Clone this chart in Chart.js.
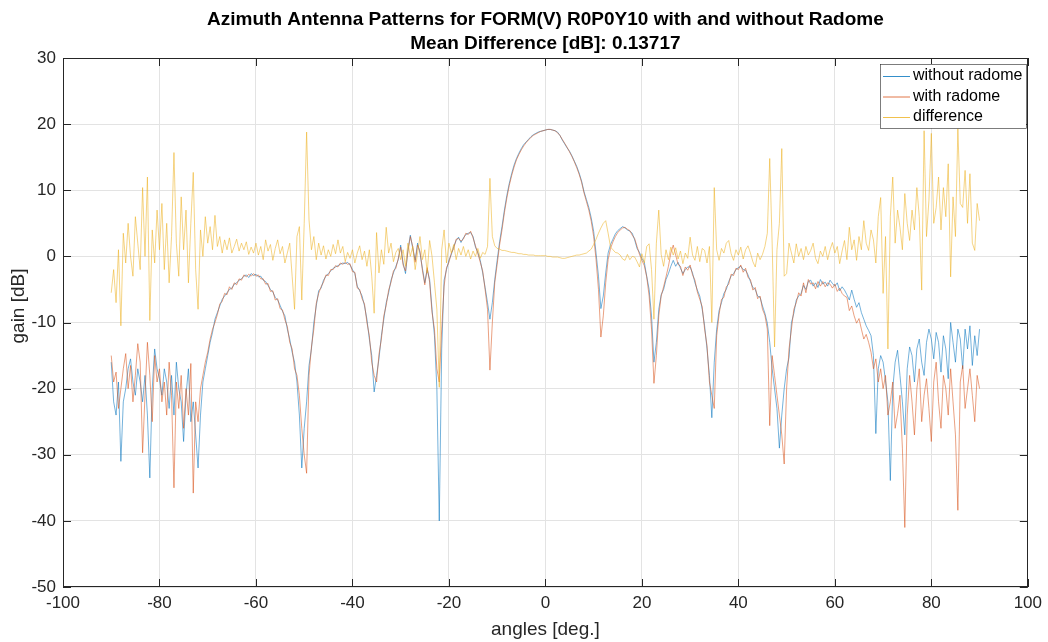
<!DOCTYPE html>
<html>
<head>
<meta charset="utf-8">
<script src="https://cdn.jsdelivr.net/npm/chart.js@4/dist/chart.umd.min.js"></script>
<style>
  html, body { margin: 0; padding: 0; background: #ffffff; }
  #wrap { width: 1048px; height: 642px; }
</style>
</head>
<body>
<div id="wrap"><canvas id="c" width="1048" height="642"></canvas></div>
<script>
// Azimuth angles, -90..90 deg in 0.5 deg steps
const angles = Array.from({ length: 361 }, (_, i) => -90 + i * 0.5);

// Gain without radome [dB]
const withoutRadome = [
  -16, -22, -24, -19, -31, -22, -20, -17, -15.5, -19, -21, -17, -19, -22, -18, -24, -33.5, -20, -14, -17,
  -18.5, -21, -17, -19, -23, -18, -24, -16, -20, -22, -28, -21, -17, -25, -22, -27, -32, -24, -19, -17,
  -15, -13, -11.5, -9.5, -8.5, -7.5, -6.5, -6, -5.5, -5, -4.8, -4.2, -4, -3.6, -3.4, -3, -2.8, -3.2, -2.6, -2.9,
  -2.7, -3.1, -3, -3.6, -3.8, -4.4, -5, -5.4, -6.2, -6.6, -7.4, -8.3, -9, -11, -12.5, -14.5, -16, -19, -24, -32,
  -26, -22, -16.5, -14, -10, -7.5, -5.2, -4.8, -3.6, -3, -2.6, -2.2, -1.8, -1.6, -1.4, -1.2, -1.0, -1.1, -0.9, -1.3,
  -2, -2.6, -4.5, -5.2, -6, -7.5, -9.5, -12.5, -15, -20.5, -18, -15.5, -12, -9.5, -7, -5.5, -3.6, -2.5, -1.5, -0.5,
  1.7, -1, -2.6, 1, 3.2, 1.2, -0.6, 2, 0.5, -1.8, -4, -2, -3.5, -8, -12, -20, -40, -14, -3.6, -2,
  -0.6, 0.3, 1.5, 2.4, 2.9, 2.1, 2.8, 3.3, 3.5, 3.6, 3, 1.4, 0.6, -0.6, -2.5, -4.7, -7, -9.5, -7, -3.5,
  -0.6, 2.2, 4.5, 7, 9.2, 11, 12.5, 13.8, 14.8, 15.6, 16.3, 16.9, 17.3, 17.7, 18.1, 18.4, 18.6, 18.8, 18.9, 19.0,
  19.1, 19.2, 19.2, 19.1, 19.0, 18.8, 18.3, 17.6, 17.0, 16.4, 15.9, 15.2, 14.4, 13.6, 12.6, 11.4, 9.8, 8.6, 7.4, 5.8,
  3.8, 0.5, -3, -7.9, -6, -2.5, 0.5, 1.8, 2.6, 3.4, 3.9, 4.2, 4.5, 4.3, 4.0, 3.8, 3.5, 2.5, 1.2, 0.6,
  -0.3, -0.9, -3, -5, -9, -16, -13, -8, -5.8, -5, -3.5, -2.6, -1.5, -0.6, -1.5, -0.9, -1.8, -2.6, -2, -1.6,
  -1.6, -2.5, -4, -5.1, -6, -8, -10.5, -14, -18, -24.4, -16, -11, -8.2, -7, -5.6, -5, -3.8, -3, -2.6, -2,
  -1.7, -1.5, -2, -2.1, -2.8, -3.8, -4.7, -5, -6, -6.2, -7.5, -8.6, -10.1, -13, -17, -20, -23, -29, -24, -20,
  -17, -15.3, -10, -8.6, -6.6, -6, -5.6, -4.4, -5, -3.8, -3.6, -4.5, -4, -4.7, -3.5, -4.2, -3.9, -4.5, -3.6, -4.1,
  -4.5, -4, -5.2, -4.6, -5.1, -5.8, -6.6, -5.1, -6.5, -7.7, -7, -8.5, -9.5, -10.5, -11.2, -12, -15, -26.8, -17, -15,
  -16, -18.8, -22, -33.9, -20, -16, -14.2, -18, -22, -27, -17, -13.7, -15, -19, -14, -12.5, -16, -18, -13, -11,
  -12.5, -15.5, -11.5, -13, -17.5, -12, -14, -18.5, -10, -13, -16, -11, -12.5, -17, -11, -14, -10.5, -16.5, -12, -15, -11
];

// Gain with radome [dB]
const withRadome = [
  -15, -19, -17.5, -23, -20, -17, -14.7, -20, -16.5, -22, -18, -13.2, -16, -29.7, -21, -13, -18, -25, -15, -19,
  -17, -22, -19, -24, -16, -21, -35, -19, -23, -18, -26, -20, -24, -16.2, -35.8, -22, -25, -20, -18, -16,
  -14.5, -12.5, -11, -10, -8.8, -7.2, -6.8, -5.6, -5.8, -4.6, -5, -4, -4.3, -3.4, -3.6, -2.8, -3.1, -2.7, -3, -2.6,
  -3, -2.8, -3.4, -3.4, -4.2, -4.1, -5.3, -5.2, -6.6, -6.4, -7.9, -8.1, -9.6, -10.6, -13, -14, -17, -18, -21, -26,
  -30, -32.8, -18, -13.7, -11, -7.1, -5.6, -4.6, -3.9, -2.8, -2.9, -2, -2, -1.4, -1.6, -1, -1.2, -0.9, -1.2, -1.1,
  -2.3, -2.4, -4.8, -5, -6.4, -7.2, -10, -12, -16, -18, -19, -14.8, -12.5, -9, -7.4, -5.1, -3.9, -2.2, -1.8, -0.3,
  1.4, -1.3, -2.2, 0.7, 3, 1.5, -0.9, 1.7, 0.8, -2.1, -4.3, -1.7, -3.9, -8.5, -11, -17, -19, -11, -4.5, -1.7,
  -0.9, 0.5, 1.2, 2.6, 2.7, 2.3, 2.6, 3.5, 3.3, 3.8, 2.8, 1.6, 0.4, -0.9, -2.2, -5, -8, -17.2, -10, -4,
  -1.2, 1.7, 4, 6.6, 8.8, 10.7, 12.2, 13.5, 14.6, 15.4, 16.1, 16.7, 17.2, 17.6, 18.0, 18.3, 18.5, 18.7, 18.9, 19.0,
  19.1, 19.2, 19.2, 19.1, 19.0, 18.7, 18.3, 17.7, 17.1, 16.5, 15.8, 15.1, 14.3, 13.4, 12.4, 11.2, 9.6, 8.3, 7.0, 5.3,
  3.0, -0.5, -5, -12.2, -9, -4, -0.5, 1.2, 2.2, 3.0, 3.6, 4.0, 4.3, 4.4, 4.1, 3.9, 3.2, 2.7, 1.5, 0.3,
  -0.6, -1.4, -3.1, -6, -11, -19.2, -15, -9, -6, -4.6, -3.1, -1.5, 0.5, 1.7, 0.2, -1.2, -1.5, -2.9, -1.6, -2.1,
  -1.3, -2.8, -3.6, -5.4, -6.5, -7.6, -11, -13.5, -19, -21, -23, -12, -8.8, -6.5, -6.2, -4.6, -4.2, -2.7, -2.9, -1.8,
  -2, -1.3, -2.4, -1.8, -3.2, -3.5, -5.1, -4.7, -6.4, -6, -8, -8.9, -11, -25.6, -15, -18, -21, -24, -27, -31.4,
  -20, -14, -11, -8, -7, -5.5, -6, -4, -5.5, -3.5, -4.2, -4, -4.9, -3.8, -4.5, -3.8, -4.6, -4, -4.2, -4.8,
  -4.2, -5.3, -4.8, -5.6, -6, -6.2, -8.2, -7.5, -9, -10.1, -9.4, -11, -12.5, -11.8, -13, -14.5, -17, -15.5, -19, -17,
  -20, -18, -24, -22, -19, -26, -23.8, -21, -29, -41, -24, -18, -22, -27, -20, -17, -25, -21, -18.5, -23,
  -28, -19, -16, -22, -26, -18, -20, -24, -17, -22, -27, -38.4, -19, -16.5, -23, -20, -17, -21, -25, -18, -20
];

// Difference between the two patterns [dB]
const difference = [
  -5.5, -2, -7, 1, -10.5, 3.5, -1, 5, 0, -3, 6, 2, -2, 10.4, 0, 12, -9.7, 4, -1, 7,
  1, 8, -2, 5, -4, 3, 15.7, 2, -3, 9, 1, 7, -4, 5, 12.7, -2, -8, 4, 0, 6,
  2, 4.5, 1, 6.2, 1.5, 3, 0.5, 2.5, 1, 2.8, 0.5, 1.5, 2.6, 0.8, 2, 1, 2.2, 0.3, 1.4, 0.5,
  2, 0.2, 1.5, -0.5, 2.5, 0.8, 1.8, -0.6, 1.2, 2.5, 0.4, 1.5, -1, 0.5, 2, -3, -8, 3, 4.5, -6.6,
  5, 18.8, 5.5, 1, 3, -0.5, 2, 0.2, 1.6, -0.4, 1, 0, 1.8, 0.4, 2.5, 0.5, 1.5, -0.8, 0.6, -0.3,
  1, -1, 0.5, 1.6, -0.5, 0.8, -1.5, 1, -3, -8.6, 3.6, -2.5, 1, -1.2, 4.4, 0.5, 2, -0.8, 0.6, 1.2,
  -0.5, 1, -1.5, 2, 0, 1.5, -2, 0.5, 3, -0.5, 1, -2.5, 2.4, 0, -4, -8, -19.8, 1, 4, -1,
  2, 0.5, 1.8, -0.5, 1.2, 0.2, 1.5, 0, 1, -0.4, 0.8, 0, 1.2, -0.3, 0.6, 0.3, 1.5, 11.8, 3, 1.6,
  1.2, 1.1, 0.9, 0.9, 0.8, 0.7, 0.6, 0.6, 0.5, 0.4, 0.4, 0.3, 0.3, 0.2, 0.2, 0.2, 0.1, 0.1, 0.1, 0.1,
  0.1, 0, 0, -0.1, -0.1, -0.1, -0.2, -0.3, -0.3, -0.2, -0.1, 0, 0.1, 0.2, 0.2, 0.3, 0.4, 0.5, 0.8, 1.1,
  1.8, 2.6, 3.5, 4.3, 5, 5.4, 3.5, 1.4, 1, 0.6, 0.5, 0.2, -0.4, -0.6, 0.3, -0.5, 0, -0.1, -0.8, -1.6,
  0.4, -1, 1.5, 1.9, -2, -9.5, 2, 7, 0.3, -1.5, 1, -0.5, 1.4, 0.2, 1.3, -0.4, 0.8, -1.1, 0.5, -0.3,
  2.9, 0.2, -0.6, 1.5, -0.8, 1.2, 0.9, -1, 1.5, -10, 10.4, 1, -0.6, 1.2, 0.5, 2, 2.4, 0.4, -0.6, 1,
  0.2, 1.4, -0.4, 1, 1.6, 0.5, -0.8, -1.6, 0.5, -0.5, 0.3, 1.5, 3.5, 14.8, 2, -13.7, 1, 5, 16.3, -3,
  -2.6, 2, 0.5, -1, 1.9, 0, 1.2, -0.5, 1.5, 0.2, 0.9, 2, -0.3, -1.1, 0.8, 0, 1.5, -0.5, 1, 2.1,
  0.5, 1.5, -1.1, 0.8, 2.4, -0.5, 4.4, 1, 2.5, -0.6, 3, 1, 5.4, 2, 0.9, 4, 2.5, -1, 6, 8.9,
  -5.6, 3, -14, 6, 12, 2, 7, 4.4, 1, 9.5, 5, 2.4, 7, 4, 10.4, 6, -5.1, 19, 3, 8.5,
  18.6, 5, 7.4, 12, 4, 10.4, 6, 14, -3.1, 9, 3, 19.3, 8, 7.4, 13, 5, 12.5, 2, 0.9, 8, 5.4
];

const seriesNames = ['without radome', 'with radome', 'difference'];
const titleLines = [
  'Azimuth Antenna Patterns for FORM(V) R0P0Y10 with and without Radome',
  'Mean Difference [dB]: 0.13717'
];
const xTicks = [-100, -80, -60, -40, -20, 0, 20, 40, 60, 80, 100];
const yTicks = [-50, -40, -30, -20, -10, 0, 10, 20, 30];

const COLORS = ['#0072BD', '#D95319', '#EDB120'];
const FONT = '"Liberation Sans", Arial, Helvetica, sans-serif';
const AXIS = '#262626';

const toXY = vals => angles.map((a, i) => ({ x: a, y: vals[i] }));

// Title, axis labels, boxed axes with inward ticks and the in-plot legend
const decorations = {
  id: 'decorations',
  afterDatasetsDraw(chart) {
    const { ctx, chartArea: a, scales } = chart;
    ctx.save();
    // box
    ctx.strokeStyle = AXIS;
    ctx.lineWidth = 1;
    ctx.strokeRect(Math.round(a.left) + 0.5, Math.round(a.top) + 0.5,
                   Math.round(a.right - a.left) - 1, Math.round(a.bottom - a.top) - 1);
    // inward ticks
    const tl = 8;
    ctx.beginPath();
    xTicks.forEach(v => {
      const px = Math.round(scales.x.getPixelForValue(v)) + 0.5;
      ctx.moveTo(px, a.bottom); ctx.lineTo(px, a.bottom - tl);
      ctx.moveTo(px, a.top); ctx.lineTo(px, a.top + tl);
    });
    yTicks.forEach(v => {
      const py = Math.round(scales.y.getPixelForValue(v)) + 0.5;
      ctx.moveTo(a.left, py); ctx.lineTo(a.left + tl, py);
      ctx.moveTo(a.right, py); ctx.lineTo(a.right - tl, py);
    });
    ctx.stroke();

    // title
    const cx = (a.left + a.right) / 2;
    ctx.fillStyle = '#000000';
    ctx.font = 'bold 19px ' + FONT;
    ctx.textAlign = 'center';
    ctx.textBaseline = 'middle';
    ctx.fillText(titleLines[0], cx, 20);
    ctx.fillText(titleLines[1], cx, 44);

    // axis labels
    ctx.fillStyle = AXIS;
    ctx.font = '19px ' + FONT;
    ctx.fillText('angles [deg.]', cx, 630);
    ctx.save();
    ctx.translate(19, 306);
    ctx.rotate(-Math.PI / 2);
    ctx.fillText('gain [dB]', 0, 0);
    ctx.restore();

    // legend
    const lx = 880, ly = 64, lw = 146, lh = 64;
    ctx.fillStyle = '#ffffff';
    ctx.fillRect(lx, ly, lw, lh);
    ctx.strokeStyle = '#262626';
    ctx.lineWidth = 0.6;
    ctx.strokeRect(lx + 0.5, ly + 0.5, lw, lh);
    ctx.font = '16px ' + FONT;
    ctx.textAlign = 'left';
    seriesNames.forEach((name, i) => {
      const y = ly + 12 + i * 20.5;
      ctx.strokeStyle = COLORS[i];
      ctx.lineWidth = 0.8;
      ctx.beginPath();
      ctx.moveTo(lx + 3, y + 0.5);
      ctx.lineTo(lx + 30, y + 0.5);
      ctx.stroke();
      ctx.fillStyle = '#000000';
      ctx.fillText(name, lx + 33, y);
    });
    ctx.restore();
  }
};

new Chart(document.getElementById('c'), {
  type: 'line',
  data: {
    datasets: [
      { label: seriesNames[0], data: toXY(withoutRadome), borderColor: COLORS[0], order: 3 },
      { label: seriesNames[1], data: toXY(withRadome), borderColor: COLORS[1], order: 2 },
      { label: seriesNames[2], data: toXY(difference), borderColor: COLORS[2], order: 1 }
    ]
  },
  options: {
    responsive: false,
    animation: false,
    devicePixelRatio: 1,
    layout: { padding: { top: 58, right: 20, left: 0, bottom: 0 } },
    elements: {
      line: { borderWidth: 0.55, tension: 0, fill: false },
      point: { radius: 0, hoverRadius: 0 }
    },
    plugins: {
      legend: { display: false },
      title: { display: false },
      tooltip: { enabled: false }
    },
    scales: {
      x: {
        type: 'linear',
        min: -100, max: 100,
        afterFit(s) { s.height = 55; },
        afterBuildTicks(s) { s.ticks = xTicks.map(v => ({ value: v })); },
        grid: { color: '#e3e3e3', lineWidth: 1, drawTicks: false },
        border: { display: false },
        ticks: { color: AXIS, font: { family: FONT, size: 17 }, padding: 6, maxRotation: 0 }
      },
      y: {
        type: 'linear',
        min: -50, max: 30,
        afterFit(s) { s.width = 63; },
        afterBuildTicks(s) { s.ticks = yTicks.map(v => ({ value: v })); },
        grid: { color: '#e3e3e3', lineWidth: 1, drawTicks: false },
        border: { display: false },
        ticks: { color: AXIS, font: { family: FONT, size: 17 }, padding: 7 }
      }
    }
  },
  plugins: [decorations]
});
</script>
</body>
</html>
